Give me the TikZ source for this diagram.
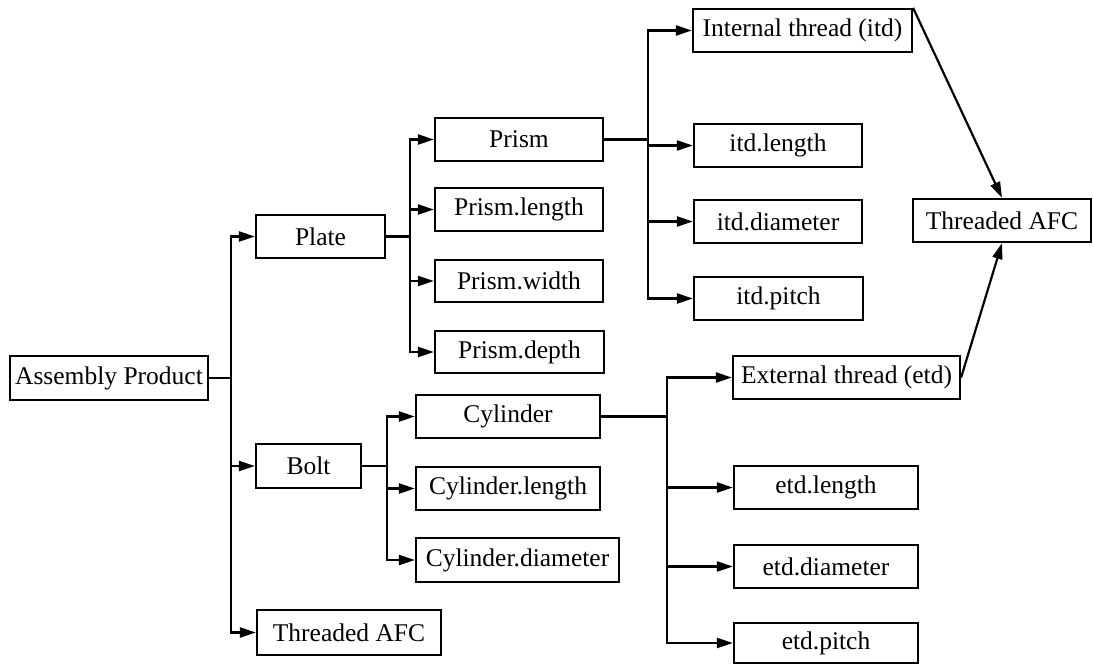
\documentclass[tikz,border=0pt]{standalone}
\usepackage{fontspec}
\setmainfont{Liberation Serif}
\usetikzlibrary{arrows.meta}
\begin{document}
\begin{tikzpicture}[x=1pt,y=-1pt,
  box/.style={draw, line width=2.2pt, inner sep=0pt, font=\fontsize{25.5}{30}\selectfont},
  link/.style={line width=2.2pt},
  arr/.style={line width=2.2pt, -{Triangle[length=16pt,width=10pt]}}]
\useasboundingbox (0,0) rectangle (1093,664);
% nodes
\node[box, minimum width=198pt, minimum height=44pt] (AP) at (109,378) {Assembly Product};
\node[box, minimum width=129pt, minimum height=43pt] (Plate) at (320.5,236.5) {Plate};
\node[box, minimum width=105pt, minimum height=44pt] (Bolt) at (308.5,466) {Bolt};
\node[box, minimum width=184pt, minimum height=45pt] (TAFCa) at (349,632.5) {Threaded AFC};
\node[box, minimum width=168pt, minimum height=43pt] (Prism) at (519,139.5) {Prism};
\node[box, minimum width=168pt, minimum height=43pt] (PrismL) at (519,209.5) {Prism.length};
\node[box, minimum width=168pt, minimum height=42pt] (PrismW) at (519,281) {Prism.width};
\node[box, minimum width=169pt, minimum height=42pt] (PrismD) at (519.5,352) {Prism.depth};
\node[box, minimum width=184pt, minimum height=43pt] (Cyl) at (508,416.5) {Cylinder};
\node[box, minimum width=184pt, minimum height=43pt] (CylL) at (508,488.5) {Cylinder.length};
\node[box, minimum width=203pt, minimum height=44pt] (CylD) at (517.5,560) {Cylinder.diameter};
\node[box, minimum width=219pt, minimum height=43pt] (IT) at (802.5,30.5) {Internal thread (itd)};
\node[box, minimum width=168pt, minimum height=43pt] (itdL) at (778,145.5) {itd.length};
\node[box, minimum width=168pt, minimum height=43pt] (itdD) at (778,221.5) {itd.diameter};
\node[box, minimum width=169pt, minimum height=43pt] (itdP) at (778.5,298.5) {itd.pitch};
\node[box, minimum width=178pt, minimum height=43pt] (TAFCb) at (1002,220.5) {Threaded AFC};
\node[box, minimum width=227pt, minimum height=43pt] (ET) at (846.5,377.5) {External thread (etd)};
\node[box, minimum width=184pt, minimum height=43pt] (etdL) at (826,487.5) {etd.length};
\node[box, minimum width=184pt, minimum height=43pt] (etdD) at (826,566.5) {etd.diameter};
\node[box, minimum width=184pt, minimum height=40pt] (etdP) at (826,643) {etd.pitch};
% bus points
\coordinate (bA) at (231,378);
\coordinate (bP) at (410,236.5);
\coordinate (bB) at (387,466);
\coordinate (bR) at (648,139.5);
\coordinate (bC) at (667,416.5);
% connectors
\draw[link] (AP.east) -- (bA);
\draw[arr] (bA) |- (Plate.west);
\draw[arr] (bA) |- (Bolt.west);
\draw[arr] (bA) |- (TAFCa.west);
\draw[link] (Plate.east) -- (bP);
\draw[arr] (bP) |- (Prism.west);
\draw[arr] (bP) |- (PrismL.west);
\draw[arr] (bP) |- (PrismW.west);
\draw[arr] (bP) |- (PrismD.west);
\draw[link] (Bolt.east) -- (bB);
\draw[arr] (bB) |- (Cyl.west);
\draw[arr] (bB) |- (CylL.west);
\draw[arr] (bB) |- (CylD.west);
\draw[link] (Prism.east) -- (bR);
\draw[arr] (bR) |- (IT.west);
\draw[arr] (bR) |- (itdL.west);
\draw[arr] (bR) |- (itdD.west);
\draw[arr] (bR) |- (itdP.west);
\draw[link] (Cyl.east) -- (bC);
\draw[arr] (bC) |- (ET.west);
\draw[arr] (bC) |- (etdL.west);
\draw[arr] (bC) |- (etdD.west);
\draw[arr] (bC) |- (etdP.west);
\draw[arr] (IT.north east) -- (TAFCb.north);
\draw[arr] (ET.east) -- (TAFCb.south);
\end{tikzpicture}
\end{document}
